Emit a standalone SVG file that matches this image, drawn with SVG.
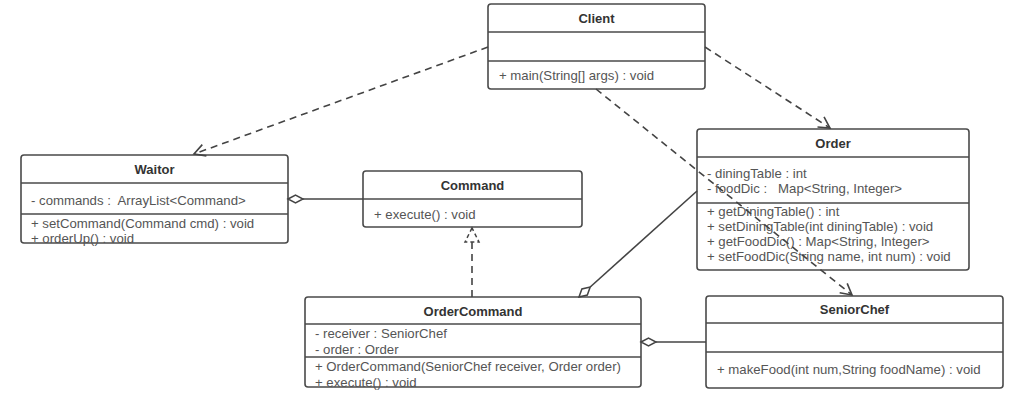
<svg xmlns="http://www.w3.org/2000/svg" width="1028" height="402" viewBox="0 0 1028 402">
<defs>
<style>
.box{fill:#fff;stroke:#4a4a4a;stroke-width:1.6}
.sep{stroke:#4a4a4a;stroke-width:1.6}
.t{font-family:"Liberation Sans",Arial,sans-serif;font-size:13px;font-weight:bold;fill:#333;text-anchor:middle}
.m{font-family:"Liberation Sans",Arial,sans-serif;font-size:13.2px;fill:#555}
.dash{fill:none;stroke:#444;stroke-width:1.6;stroke-dasharray:7,5}
.solid{fill:none;stroke:#444;stroke-width:1.6}
.dia{fill:#fff;stroke:#444;stroke-width:1.5}
</style>
<marker id="open" markerWidth="14" markerHeight="14" refX="12" refY="7" orient="auto" markerUnits="userSpaceOnUse">
<path d="M1,1 L12,7 L1,13" fill="none" stroke="#444" stroke-width="1.6"/>
</marker>
</defs>
<rect width="1028" height="402" fill="#fff"/>

<g id="Client">
<rect class="box" x="488" y="4" width="217" height="85" rx="3"/>
<line class="sep" x1="488" y1="32" x2="705" y2="32"/>
<line class="sep" x1="488" y1="61" x2="705" y2="61"/>
<text class="t" x="596.5" y="23">Client</text>
<text class="m" x="499" y="80">+ main(String[] args) : void</text>
</g>

<g id="Waitor">
<rect class="box" x="21" y="155" width="267" height="88" rx="3"/>
<line class="sep" x1="21" y1="183" x2="288" y2="183"/>
<line class="sep" x1="21" y1="214" x2="288" y2="214"/>
<text class="t" x="154.5" y="174">Waitor</text>
<text class="m" x="31" y="205" xml:space="preserve">- commands :  ArrayList&lt;Command&gt;</text>
<text class="m" x="31" y="228">+ setCommand(Command cmd) : void</text>
<text class="m" x="31" y="243">+ orderUp() : void</text>
</g>

<g id="Command">
<rect class="box" x="363" y="171" width="219" height="56" rx="3"/>
<line class="sep" x1="363" y1="199" x2="582" y2="199"/>
<text class="t" x="472.5" y="190">Command</text>
<text class="m" x="374" y="219">+ execute() : void</text>
</g>

<g id="Order">
<rect class="box" x="697" y="129" width="272" height="141" rx="3"/>
<line class="sep" x1="697" y1="157" x2="969" y2="157"/>
<line class="sep" x1="697" y1="203" x2="969" y2="203"/>
<text class="t" x="833" y="148">Order</text>
<text class="m" x="707" y="178">- diningTable : int</text>
<text class="m" x="707" y="193" xml:space="preserve">- foodDic :   Map&lt;String, Integer&gt;</text>
<text class="m" x="707" y="216">+ getDiningTable() : int</text>
<text class="m" x="707" y="231">+ setDiningTable(int diningTable) : void</text>
<text class="m" x="707" y="246">+ getFoodDic() : Map&lt;String, Integer&gt;</text>
<text class="m" x="707" y="261">+ setFoodDic(String name, int num) : void</text>
</g>

<g id="OrderCommand">
<rect class="box" x="305" y="297" width="336" height="90" rx="3"/>
<line class="sep" x1="305" y1="324" x2="641" y2="324"/>
<line class="sep" x1="305" y1="357" x2="641" y2="357"/>
<text class="t" x="473" y="316">OrderCommand</text>
<text class="m" x="315" y="338">- receiver : SeniorChef</text>
<text class="m" x="315" y="354">- order : Order</text>
<text class="m" x="315" y="371">+ OrderCommand(SeniorChef receiver, Order order)</text>
<text class="m" x="315" y="387">+ execute() : void</text>
</g>

<g id="SeniorChef">
<rect class="box" x="706" y="296" width="297" height="92" rx="3"/>
<line class="sep" x1="706" y1="323" x2="1003" y2="323"/>
<line class="sep" x1="706" y1="352" x2="1003" y2="352"/>
<text class="t" x="854.5" y="314">SeniorChef</text>
<text class="m" x="717" y="374">+ makeFood(int num,String foodName) : void</text>
</g>

<g id="connectors">
<path class="dash" d="M488,47 L194,154" marker-end="url(#open)"/>
<path class="dash" d="M705,47 L830,128" marker-end="url(#open)"/>
<path class="dash" d="M596,89 L852,295" marker-end="url(#open)"/>
<path class="dash" d="M472,297 L472,242"/>
<polygon points="472,228 465,242 479,242" fill="#fff" stroke="#444" stroke-width="1.5" stroke-dasharray="4,3"/>
<path class="solid" d="M303,199 L363,199"/>
<polygon class="dia" points="288,199 295.5,195 303,199 295.5,203"/>
<path class="solid" d="M590.2,287 L697,191"/>
<polygon class="dia" points="579,297 587.3,295 590.2,287 581.9,289"/>
<path class="solid" d="M656,342 L706,342"/>
<polygon class="dia" points="641,342 648.5,338 656,342 648.5,346"/>
</g>
</svg>
